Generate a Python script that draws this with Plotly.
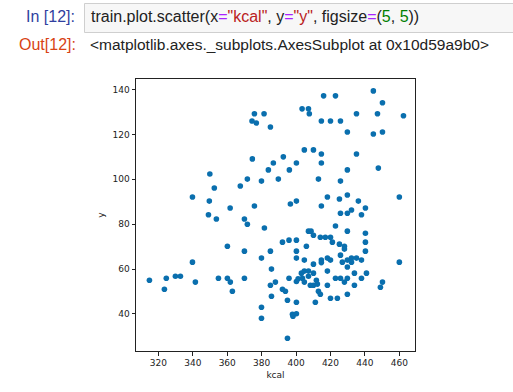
import plotly.graph_objects as go

# kcal values (x) and y values
kcal = [349.9, 352.5, 339.8, 349.6, 361.7, 349.1, 416.0, 375.8, 381.4, 403.5,
        407.2, 407.7, 374.4, 376.9, 385.1, 414.7, 404.8, 410.1, 414.7, 374.6,
        392.6, 386.8, 400.2, 414.7, 383.9, 396.1, 371.7, 379.9, 389.7, 413.0,
        367.6, 375.8, 396.7, 400.2, 414.7, 422.9, 444.9, 450.2, 435.1, 447.3,
        462.4, 420.0, 425.8, 429.8, 444.9, 450.2, 435.1, 429.8, 447.8, 425.8,
        418.2, 425.2, 429.8, 436.2, 460.0, 440.3, 432.2, 429.8, 425.8, 438.0,
        353.7, 360.1, 339.8, 314.8, 324.6, 323.5, 329.9, 332.8, 341.5, 354.9,
        360.1, 361.8, 363.0, 370.0, 371.7, 381.6, 370.0, 370.0, 379.9, 385.1,
        385.7, 385.1, 385.7, 388.0, 379.9, 379.9, 392.1, 395.9, 400.2, 400.2,
        400.2, 406.0, 407.2, 408.7, 410.1, 414.1, 417.0, 420.0, 404.8, 410.1,
        414.7, 414.7, 392.1, 393.8, 395.9, 395.0, 400.2, 397.9, 398.2, 400.2,
        395.0, 400.2, 401.2, 403.1, 404.8, 407.2, 410.1, 403.7, 404.8, 407.2,
        408.3, 410.1, 411.8, 412.4, 413.0, 414.1, 411.2, 422.9, 429.8, 440.3,
        421.1, 425.2, 428.1, 428.1, 440.3, 440.3, 425.8, 418.2, 420.0, 426.9,
        429.8, 432.2, 432.2, 435.1, 438.0, 429.8, 460.0, 418.2, 433.9, 440.9,
        422.9, 425.8, 429.8, 428.1, 438.0, 418.2, 433.9, 450.2, 449.0, 429.8,
        420.0, 424.0]
y = [102.4, 96.1, 92.1, 90.3, 87.2, 84.2, 137.2, 129.2, 129.2, 131.4,
     131.4, 129.2, 126.0, 125.1, 123.3, 126.0, 113.1, 113.1, 111.3, 109.1,
     110.0, 107.3, 107.3, 107.3, 104.2, 104.2, 100.1, 99.2, 100.1, 100.1,
     97.0, 88.1, 89.0, 90.3, 88.1, 137.2, 139.4, 134.1, 129.2, 129.2,
     128.3, 126.0, 126.0, 121.1, 120.2, 121.1, 111.3, 104.2, 105.0, 99.2,
     92.1, 91.2, 93.0, 90.3, 92.1, 87.2, 86.3, 84.9, 84.9, 84.2,
     82.3, 70.2, 63.1, 55.0, 55.9, 51.0, 56.8, 56.8, 54.2, 55.9,
     55.9, 54.2, 50.1, 82.3, 80.0, 78.3, 68.0, 55.9, 64.9, 68.0,
     60.0, 52.8, 47.9, 54.2, 43.0, 38.1, 72.0, 72.9, 72.9, 68.0,
     64.9, 70.2, 76.9, 76.9, 75.1, 74.2, 74.2, 74.2, 64.0, 62.2,
     64.0, 62.9, 51.0, 50.1, 55.9, 46.1, 45.2, 39.9, 39.0, 40.1,
     29.2, 54.5, 55.7, 58.2, 59.1, 59.1, 58.2, 55.9, 54.2, 56.8,
     52.8, 52.8, 55.0, 53.3, 50.1, 48.8, 45.2, 79.2, 76.9, 76.0,
     72.0, 71.1, 70.2, 68.9, 72.0, 68.0, 66.2, 64.9, 64.0, 63.1,
     64.0, 64.9, 63.1, 64.9, 64.0, 60.9, 63.1, 59.1, 58.2, 58.2,
     55.9, 55.9, 55.9, 54.2, 55.9, 52.8, 52.8, 54.2, 51.9, 48.8,
     47.0, 47.0]

x_ticks = [320, 340, 360, 380, 400, 420, 440, 460]
y_ticks = [40, 60, 80, 100, 120, 140]

W, H = 513, 392
ML, MR, MT, MB = 136, 98, 79, 41
PW, PH = W - ML - MR, H - MT - MB


def px(x):
    return (x - ML) / PW


def py(yv):
    return (H - MB - yv) / PH


fig = go.Figure()
fig.add_trace(go.Scatter(
    x=kcal, y=y, mode="markers",
    marker=dict(color="#0a6fae", size=5.6, line=dict(width=0)),
    showlegend=False, hoverinfo="skip",
))

axis_common = dict(
    showline=True, mirror=True, linecolor="#222222", linewidth=1,
    showgrid=False, zeroline=False, ticks="outside", ticklen=3.5,
    tickwidth=1, tickcolor="#222222",
    tickfont=dict(family="DejaVu Sans", size=9, color="#222222"),
)

fig.update_layout(
    width=W, height=H,
    margin=dict(l=ML, r=MR, t=MT, b=MB, pad=0),
    paper_bgcolor="white", plot_bgcolor="white",
    xaxis=dict(range=[307, 469.1], tickvals=x_ticks, **axis_common,
               title=dict(text="kcal", standoff=4,
                          font=dict(family="DejaVu Sans", size=9, color="#222222"))),
    yaxis=dict(range=[23.5, 144.7], tickvals=y_ticks, **axis_common,
               title=dict(text="y", standoff=6,
                          font=dict(family="DejaVu Sans", size=9, color="#222222"))),
)

# Notebook input cell box
fig.add_shape(type="rect", xref="paper", yref="paper",
              x0=px(84.5), x1=px(530), y0=py(32.5), y1=py(3.5),
              line=dict(color="#cfcfcf", width=1), fillcolor="#f7f7f7",
              layer="below")

nb_font = "Liberation Sans"
code = ('train.plot.scatter(x<span style="color:#aa22ff">=</span>'
        '<span style="color:#ba2121">"kcal"</span>, y<span style="color:#aa22ff">=</span>'
        '<span style="color:#ba2121">"y"</span>, figsize<span style="color:#aa22ff">=</span>'
        '(<span style="color:#008000">5</span>, <span style="color:#008000">5</span>))')

fig.add_annotation(text="In [12]:", xref="paper", yref="paper", x=px(24), y=py(17),
                   xanchor="left", yanchor="middle", showarrow=False,
                   font=dict(family=nb_font, size=16, color="#303f9f"))
fig.add_annotation(text=code, xref="paper", yref="paper", x=px(89), y=py(17),
                   xanchor="left", yanchor="middle", showarrow=False,
                   font=dict(family=nb_font, size=16, color="#222222"))
fig.add_annotation(text="Out[12]:", xref="paper", yref="paper", x=px(17), y=py(44),
                   xanchor="left", yanchor="middle", showarrow=False,
                   font=dict(family=nb_font, size=16, color="#d84315"))
fig.add_annotation(text="&lt;matplotlib.axes._subplots.AxesSubplot at 0x10d59a9b0&gt;",
                   xref="paper", yref="paper", x=px(88), y=py(44),
                   xanchor="left", yanchor="middle", showarrow=False,
                   font=dict(family=nb_font, size=15.5, color="#222222"))

fig.write_html("out.html")
